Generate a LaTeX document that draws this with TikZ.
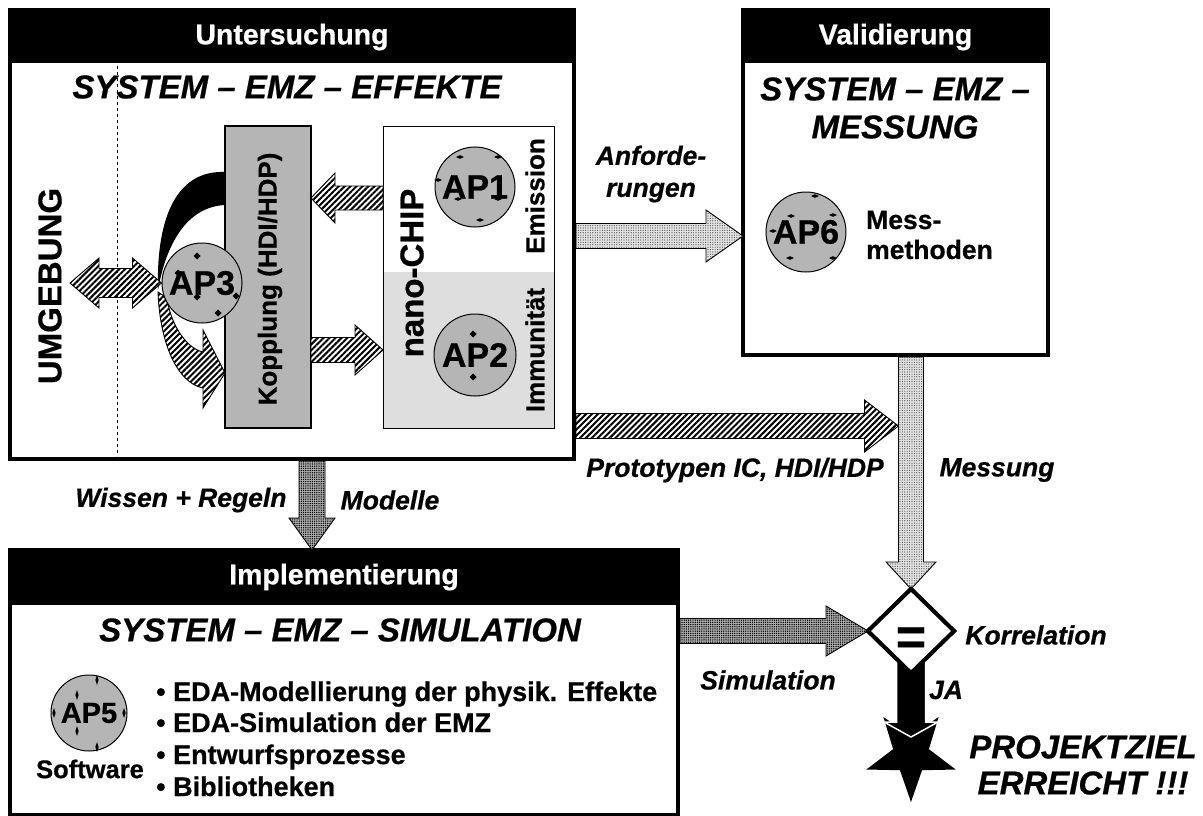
\documentclass[tikz,border=0pt]{standalone}
\usepackage{fontspec}
\setmainfont{Liberation Sans}[BoldFeatures={FakeBold=0.6}, BoldItalicFeatures={FakeBold=0.6}]
\usetikzlibrary{calc,shapes.geometric,patterns.meta}
\definecolor{apgray}{gray}{0.71}
\definecolor{panelgray}{gray}{0.87}
\newcommand\setfs[1]{\fontsize{#1}{#1}\selectfont}
% straight block arrow: style, name, tail, tip, shaft half width, head half width, head length
\newcommand\blockarrow[7]{%
  \coordinate (#2-hb) at ($(#4)!#7!(#3)$);
  \path[#1] ($(#3)!#5!90:(#4)$) -- ($(#2-hb)!#5!90:(#4)$) -- ($(#2-hb)!#6!90:(#4)$) -- (#4)
    -- ($(#2-hb)!#6!-90:(#4)$) -- ($(#2-hb)!#5!-90:(#4)$) -- ($(#3)!#5!-90:(#4)$) -- cycle;}
% block arrow with a head at both ends
\newcommand\dblockarrow[7]{%
  \coordinate (#2-ha) at ($(#3)!#7!(#4)$);
  \coordinate (#2-hb) at ($(#4)!#7!(#3)$);
  \path[#1] (#3) -- ($(#2-ha)!#6!90:(#4)$) -- ($(#2-ha)!#5!90:(#4)$) -- ($(#2-hb)!#5!90:(#4)$)
    -- ($(#2-hb)!#6!90:(#4)$) -- (#4) -- ($(#2-hb)!#6!-90:(#4)$) -- ($(#2-hb)!#5!-90:(#4)$)
    -- ($(#2-ha)!#5!-90:(#4)$) -- ($(#2-ha)!#6!-90:(#4)$) -- cycle;}
% small handle marks on the work-package discs
\newcommand\hmark[2]{\fill (#1,#2) +(-4,0) -- +(0,-1.8) -- +(4,0) -- +(0,1.8) -- cycle;}
\newcommand\vmark[2]{\fill (#1,#2) +(0,-5) -- +(1.6,0) -- +(0,5) -- +(-1.6,0) -- cycle;}
\newcommand\dmark[2]{\fill (#1,#2) +(-3.5,0) -- +(0,-3.5) -- +(3.5,0) -- +(0,3.5) -- cycle;}

\begin{document}
\begin{tikzpicture}[x=1pt,y=-1pt,
  frame/.style={draw, line width=4pt, inner sep=0pt, outer sep=0pt},
  titletxt/.style={text=white, font=\bfseries\setfs{28.5}},
  headtxt/.style={font=\bfseries\itshape\fontsize{33}{38}\selectfont, align=center, inner sep=0pt},
  lbl/.style={font=\bfseries\itshape\fontsize{26.5}{32}\selectfont, align=center, inner sep=0pt},
  plain/.style={font=\bfseries\fontsize{26.5}{30}\selectfont, inner sep=0pt},
  side/.style={rotate=90, inner sep=0pt},
  ap/.style={circle, draw, line width=1pt, fill=apgray, inner sep=0pt, font=\bfseries\setfs{34}},
  hatch/.style={preaction={fill=white}, pattern={Lines[angle=45,distance=4.2pt,line width=2pt]}, draw, line width=0.9pt},
  dotlight/.style={preaction={fill=gray!22}, pattern={Dots[distance=2.4pt,radius=0.6pt]}, pattern color=black!70, draw, line width=0.9pt},
  dotdark/.style={preaction={fill=gray!62}, pattern={Dots[distance=2.2pt,radius=0.75pt]}, pattern color=black, draw, line width=0.9pt},
  solidarrow/.style={fill=black, draw=white, line width=1.5pt}
]
\useasboundingbox (0,0) rectangle (1203,816);

% ---------- the three main blocks ----------
\node[frame, minimum width=564pt, minimum height=449pt] (unters) at (292,234.5) {};
\fill (unters.north west) rectangle ($(unters.north east)+(0,53)$);
\node[titletxt] (t-unters) at ($(unters.north)+(0,27)$) {Untersuchung};

\node[frame, minimum width=305pt, minimum height=345pt] (valid) at (895.5,182.5) {};
\fill (valid.north west) rectangle ($(valid.north east)+(0,53)$);
\node[titletxt] (t-valid) at ($(valid.north)+(0,27)$) {Validierung};

\node[frame, minimum width=668pt, minimum height=265pt] (implem) at (344,682.5) {};
\fill (implem.north west) rectangle ($(implem.north east)+(0,55)$);
\node[titletxt] (t-implem) at ($(implem.north)+(0,27)$) {Implementierung};

\node[headtxt] (h-unters) at (287,87) {SYSTEM – EMZ – EFFEKTE};
\node[headtxt] (h-valid) at (895,108) {SYSTEM – EMZ –\\MESSUNG};
\node[headtxt] (h-implem) at (340,630) {SYSTEM – EMZ – SIMULATION};

% ---------- inside "Untersuchung" ----------
\fill[panelgray] (383,272) rectangle (554,428);
\node[draw, line width=1pt, minimum width=171pt, minimum height=302pt, inner sep=0pt, outer sep=0pt] (nano) at (468.5,277) {};
\node[draw, line width=1.2pt, fill=apgray, minimum width=86pt, minimum height=302pt, inner sep=0pt, outer sep=0pt] (kopp) at (268,277) {};
\node[side, font=\bfseries\setfs{26}] (kopp-t) at (270,279) {Kopplung (HDI/HDP)};
\node[side, font=\bfseries\setfs{33}] (nano-t) at (412,273) {nano-CHIP};
\node[side, font=\bfseries\setfs{26}] (emis) at (535,196) {Emission};
\node[side, font=\bfseries\setfs{26}] (immu) at (535,350) {Immunität};
\node[side, font=\bfseries\setfs{33}] (umg) at (50,286) {UMGEBUNG};

% coupling paths around AP3
\fill (225,172) .. controls (178,170) and (156,215) .. (158,290)
      .. controls (166,245) and (186,207) .. (225,205) -- cycle;
\path[hatch] (158,292) .. controls (160,345) and (178,383) .. (203,388)
      -- (203,408) -- (kopp.west |- 0,373) -- (203,330) -- (203,352)
      .. controls (185,348) and (170,322) .. (167,298) -- cycle;

\node[ap, minimum size=80pt] (ap1) at (475,187) {AP1};
\node[ap, minimum size=82pt] (ap2) at (475,355) {AP2};
\node[ap, minimum size=80pt] (ap3) at (202,283) {AP3};

\coordinate (c-nk-s) at ($(nano.west)+(0,-79)$);
\coordinate (c-nk-e) at ($(kopp.east)+(0,-79)$);
\blockarrow{hatch}{nk}{c-nk-s}{c-nk-e}{12pt}{25pt}{24pt}
\coordinate (c-kn-s) at ($(kopp.east)+(0,73)$);
\coordinate (c-kn-e) at ($(nano.west)+(0,73)$);
\blockarrow{hatch}{kn}{c-kn-s}{c-kn-e}{12.5pt}{25pt}{28pt}
\coordinate (c-env) at (70,283);
\dblockarrow{hatch}{env}{c-env}{ap3.west}{14.5pt}{25pt}{29pt}

% handle marks
\hmark{460}{157} \hmark{498}{157} \hmark{438}{180} \hmark{458}{199} \hmark{498}{199} \hmark{480}{220}
\dmark{473}{334} \dmark{473}{377}
\dmark{197}{256} \dmark{197}{297} \dmark{236}{296} \dmark{218}{313} \dmark{178}{273}

\draw[dashed, line width=1pt] (117,66) -- (117,456);

% ---------- inside "Validierung" ----------
\node[ap, minimum size=80pt] (ap6) at (806,232) {AP6};
\hmark{815}{196} \hmark{791}{216} \hmark{833}{215} \hmark{773}{231} \hmark{815}{229} \hmark{790}{258} \hmark{833}{258}
\node[plain, anchor=west, align=left] (mess) at (866,235) {Mess-\\methoden};

% ---------- inside "Implementierung" ----------
\node[ap, minimum size=76pt, font=\bfseries\setfs{29}] (ap5) at (89,713) {AP5};
\vmark{77}{695} \vmark{77}{731} \vmark{54}{713} \vmark{97}{680} \vmark{97}{747} \vmark{124}{713}
\node[plain, font=\bfseries\setfs{25.5}] (soft) at (90,769) {Software};
\node[plain, anchor=base west, font=\bfseries\setfs{27}] (bl1) at (156,701) {• EDA-Modellierung der physik. Effekte};
\node[plain, anchor=base west, font=\bfseries\setfs{27}] (bl2) at (156,732) {• EDA-Simulation der EMZ};
\node[plain, anchor=base west, font=\bfseries\setfs{27}] (bl3) at (156,764) {• Entwurfsprozesse};
\node[plain, anchor=base west, font=\bfseries\setfs{27}] (bl4) at (156,796) {• Bibliotheken};

% ---------- connections between the blocks ----------
\node[diamond, draw, line width=4pt, fill=white, minimum width=86pt, minimum height=84pt, inner sep=0pt, outer sep=0pt] (corr) at (911,631) {};
\node[star, star points=5, star point ratio=2.5, shape border rotate=180, minimum size=94pt, inner sep=0pt, fill=black] (goal) at (911,755) {};

\coordinate (c-anf-s) at ($(unters.east)+(2,1.5)$);
\coordinate (c-anf-e) at ($(valid.west)+(0,53.5)$);
\blockarrow{dotlight}{anf}{c-anf-s}{c-anf-e}{12.5pt}{26pt}{37pt}

\coordinate (c-mes-s) at ($(valid.south)+(15.5,2)$);
\blockarrow{dotlight}{mes}{c-mes-s}{corr.north}{12.5pt}{25pt}{27pt}

\coordinate (c-pro-s) at ($(unters.east)+(2,191.5)$);
\coordinate (c-pro-e) at ($(valid.south)+(3,71)$);
\blockarrow{hatch}{pro}{c-pro-s}{c-pro-e}{12.5pt}{26pt}{34pt}

\coordinate (c-mod-s) at ($(unters.south)+(20,2)$);
\coordinate (c-mod-e) at ($(implem.north)+(-32,0)$);
\blockarrow{dotdark}{mod}{c-mod-s}{c-mod-e}{13pt}{23pt}{32pt}

\coordinate (c-sim-s) at ($(implem.east)+(2,-51.5)$);
\blockarrow{dotdark}{sim}{c-sim-s}{corr.west}{12.5pt}{25pt}{42pt}

\coordinate (c-ja-s) at ($(corr.south)+(0,-15)$);
\coordinate (c-ja-e) at ($(goal.center)+(0,-18)$);
\blockarrow{solidarrow}{ja}{c-ja-s}{c-ja-e}{14.5pt}{27pt}{15pt}
\node[diamond, draw, line width=4pt, fill=white, minimum width=86pt, minimum height=84pt, inner sep=0pt, outer sep=0pt] at (corr) {};
\node[font=\bfseries\setfs{52}, inner sep=0pt] (eq) at (911,641) {=};

% ---------- labels ----------
\node[lbl] (l-anf) at (651,174) {Anforde-\\rungen};
\node[lbl] (l-pro) at (735,470) {Prototypen IC, HDI/HDP};
\node[lbl] (l-mes) at (997,470) {Messung};
\node[lbl] (l-wis) at (181,500) {Wissen + Regeln};
\node[lbl] (l-mod) at (390,500) {Modelle};
\node[lbl] (l-kor) at (1036,635) {Korrelation};
\node[lbl] (l-sim) at (768,680) {Simulation};
\node[lbl] (l-ja) at (946,690) {JA};
\node[lbl, font=\bfseries\itshape\fontsize{33}{36}\selectfont] (l-goal) at (1083,765) {PROJEKTZIEL\\ERREICHT !!!};
\end{tikzpicture}
\end{document}
